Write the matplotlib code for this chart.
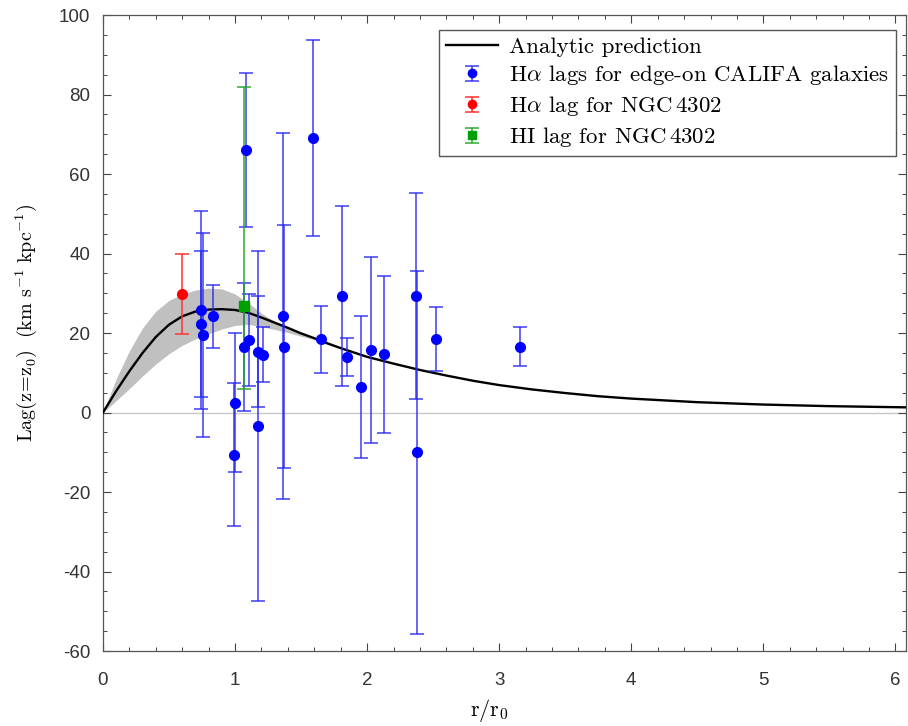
import matplotlib
matplotlib.use("Agg")
import matplotlib.pyplot as plt
from matplotlib.ticker import MultipleLocator
from matplotlib.legend_handler import HandlerErrorbar
from matplotlib.container import ErrorbarContainer

plt.rcParams['mathtext.fontset'] = 'cm'
plt.rcParams['axes.formatter.use_mathtext'] = False
plt.rcParams['axes.unicode_minus'] = False

# Analytic prediction curve
curve_x = [0, 0.1, 0.2, 0.3, 0.4, 0.5, 0.6, 0.7, 0.8, 0.9, 1.0, 1.1, 1.2, 1.3, 1.4, 1.5,
           1.6, 1.7, 1.8, 1.9, 2.0, 2.2, 2.4, 2.6, 2.8, 3.0, 3.25, 3.5, 3.75, 4.0, 4.5,
           5.0, 5.5, 6.08]
curve_y = [0, 5.4, 10.4, 15.0, 19.0, 22.1, 24.2, 25.4, 25.9, 26.0, 25.8, 25.1, 23.9, 22.6,
           21.3, 19.9, 18.7, 17.4, 16.2, 15.1, 14.0, 12.3, 10.7, 9.3, 8.0, 6.9, 5.8, 4.9,
           4.1, 3.5, 2.6, 2.0, 1.6, 1.3]

# Uncertainty band
band_x = [0, 0.1, 0.2, 0.3, 0.4, 0.5, 0.6, 0.7, 0.8, 0.9, 1.0, 1.1, 1.2, 1.3, 1.4, 1.5,
          1.6, 1.7, 1.8, 1.9, 2.0]
band_lo = [0, 3.0, 6.0, 9.2, 12.2, 14.8, 16.9, 18.5, 19.8, 21.0, 21.9, 22.2, 21.6, 20.9,
           20.1, 19.2, 18.3, 17.1, 16.0, 15.0, 14.0]
band_hi = [0, 8.5, 15.5, 21.3, 25.5, 28.2, 29.8, 30.8, 31.3, 31.1, 29.8, 27.6, 25.0, 22.9,
           21.5, 20.2, 18.9, 17.6, 16.4, 15.2, 14.0]

# H-alpha lags for edge-on CALIFA galaxies
califa_x = [0.745, 0.74, 0.755, 0.835, 1.0, 0.995, 1.065, 1.08, 1.105, 1.175, 1.175, 1.208,
            1.36, 1.37, 1.59, 1.65, 1.81, 1.85, 1.95, 2.03, 2.13, 2.37, 2.38, 2.52, 3.16]
califa_y = [25.8, 22.3, 19.5, 24.2, 2.5, -10.6, 16.5, 66.0, 18.2, 15.3, -3.3, 14.5,
            24.3, 16.6, 69.0, 18.4, 29.3, 13.9, 6.5, 15.7, 14.6, 29.3, -10.0, 18.5, 16.6]
califa_err = [24.8, 18.4, 25.6, 8.0, 17.5, 18.0, 16.0, 19.3, 11.5, 14.0, 44.0, 6.9,
              46.0, 30.6, 24.7, 8.4, 22.7, 4.8, 17.9, 23.4, 19.8, 25.8, 45.6, 8.0, 5.0]

# NGC 4302
ha_x = [0.60]
ha_y = [29.8]
ha_err = [10.0]

hi_x = [1.07]
hi_y = [26.8]
hi_err_lo = [20.8]
hi_err_hi = [55.2]

fig = plt.figure(figsize=(9.08, 7.26), dpi=100)
ax = fig.add_axes([0.1134, 0.1033, 0.8844, 0.876])

ax.axhline(0, color='#c8c8c8', lw=1.0, zorder=1)
ax.fill_between(band_x, band_lo, band_hi, color='#c0c0c0', lw=0, zorder=2)
l_curve, = ax.plot(curve_x, curve_y, color='black', lw=1.7, zorder=3, label='Analytic prediction')

eb_kw = dict(capsize=4.8, elinewidth=1.4, capthick=1.4, zorder=5, ms=7, ls='none')
blue_e = (0.15, 0.15, 0.95, 0.7)
red_e = (1.0, 0.2, 0.2, 0.8)
green_e = (0.15, 0.65, 0.15, 0.75)
hb = ax.errorbar(califa_x, califa_y, yerr=califa_err, fmt='o', color='#0000ff', ecolor=blue_e, **eb_kw)
hr = ax.errorbar(ha_x, ha_y, yerr=ha_err, fmt='o', color='#ff0000', ecolor=red_e, **eb_kw)
hg = ax.errorbar(hi_x, hi_y, yerr=[hi_err_lo, hi_err_hi], fmt='s', color='#00a000', ecolor=green_e, **eb_kw)

leg = ax.legend([l_curve, hb, hr, hg],
                ['Analytic prediction',
                 r'H$\alpha$ lags for edge-on CALIFA galaxies',
                 r'H$\alpha$ lag for NGC$\,$4302',
                 r'HI lag for NGC$\,$4302'],
                loc='upper right', bbox_to_anchor=(0.987, 0.977),
                prop={'family': 'cmr10', 'size': 16.5}, fancybox=False, framealpha=1,
                edgecolor='#555555', handlelength=2.3, handletextpad=0.45,
                borderpad=0.3, labelspacing=0.3, borderaxespad=0, markerscale=0.85,
                handler_map={ErrorbarContainer: HandlerErrorbar(yerr_size=0.32)})
leg.get_frame().set_linewidth(1.0)

ax.set_xlim(0, 6.08)
ax.set_ylim(-60, 100)
ax.xaxis.set_major_locator(MultipleLocator(1))
ax.xaxis.set_minor_locator(MultipleLocator(0.2))
ax.yaxis.set_major_locator(MultipleLocator(20))
ax.yaxis.set_minor_locator(MultipleLocator(5))
ax.tick_params(which='both', direction='in', top=True, right=True, color='#444444')
ax.tick_params(which='major', length=6, width=0.8, labelsize=13.5)
ax.tick_params(axis='x', which='major', pad=15)
ax.tick_params(axis='y', which='major', pad=9)
ax.tick_params(which='minor', length=3, width=0.7)
for lab in ax.get_xticklabels() + ax.get_yticklabels():
    lab.set_fontfamily('Liberation Sans')
    lab.set_color('#333333')
for sp in ax.spines.values():
    sp.set_color('#555555')
    sp.set_linewidth(0.9)

ax.set_xlabel(r'$\mathrm{r/r_0}$', fontsize=16)
ax.xaxis.set_label_coords(0.481, -0.072)
ax.set_ylabel(r'$\mathrm{Lag(z\!=\!z_0)\ \ (km\ s^{-1}\ kpc^{-1})}$', fontsize=14.5)
ax.yaxis.set_label_coords(-0.08, 0.516)

fig.savefig('out.png', dpi=100)
